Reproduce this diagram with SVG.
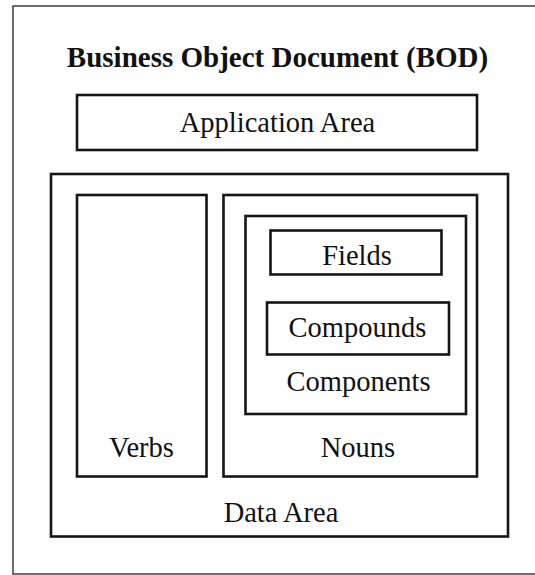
<svg xmlns="http://www.w3.org/2000/svg" width="535" height="575" viewBox="0 0 535 575">
<style>
.box{fill:none;stroke:#141414;stroke-width:2.6}
.frame{fill:none;stroke:#4a4a4a;stroke-width:1.6}
.lbl{font-family:"Liberation Serif","Times New Roman",serif;font-size:28.5px;fill:#111;text-anchor:middle}
.title{font-family:"Liberation Serif","Times New Roman",serif;font-size:29px;font-weight:bold;fill:#111;text-anchor:middle}
</style>
<rect width="535" height="575" fill="#fff"/>
<g id="bod">
<rect class="frame" x="13" y="6" width="540" height="568"/>
<text class="title" x="277.5" y="67">Business Object Document (BOD)</text>
</g>
<g id="application-area">
<rect class="box" x="77" y="95" width="400" height="55"/>
<text class="lbl" x="277.5" y="132">Application Area</text>
</g>
<g id="data-area">
<rect class="box" x="51" y="174" width="457" height="362.5"/>
<text class="lbl" x="281" y="522">Data Area</text>
</g>
<g id="verbs">
<rect class="box" x="77" y="195" width="129.5" height="281.5"/>
<text class="lbl" x="141.5" y="457">Verbs</text>
</g>
<g id="nouns">
<rect class="box" x="223.5" y="195" width="253.5" height="281.5"/>
<text class="lbl" x="358" y="457">Nouns</text>
</g>
<g id="components">
<rect class="box" x="245.5" y="216" width="220.5" height="198"/>
<text class="lbl" x="358.5" y="391">Components</text>
</g>
<g id="fields">
<rect class="box" x="270.5" y="230.5" width="171" height="44"/>
<text class="lbl" x="357" y="265">Fields</text>
</g>
<g id="compounds">
<rect class="box" x="267" y="302.5" width="182" height="52"/>
<text class="lbl" x="357.5" y="337">Compounds</text>
</g>
<g id="connectors"/>
</svg>
